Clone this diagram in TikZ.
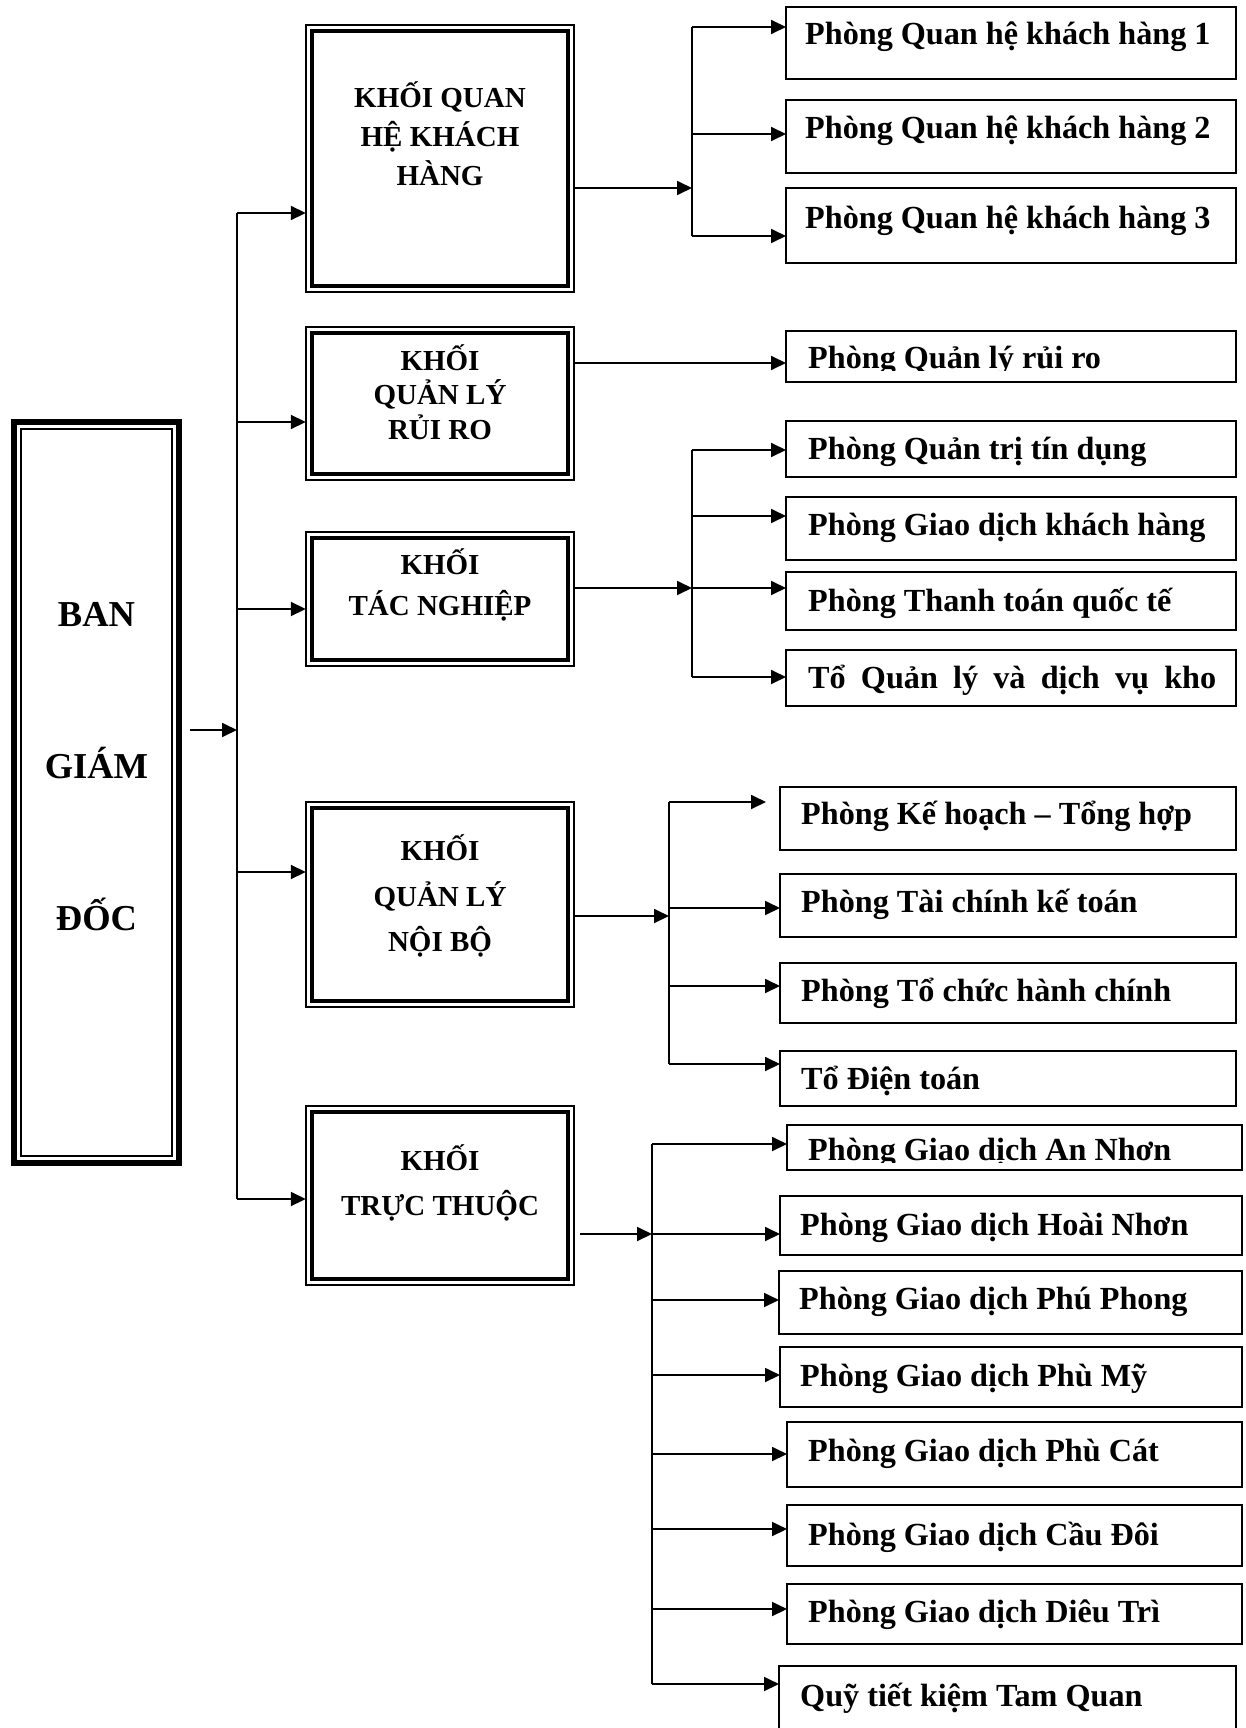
\documentclass[tikz,border=0pt]{standalone}
\usepackage{fontspec}
\setmainfont{Liberation Serif}
\usetikzlibrary{arrows.meta}
\begin{document}
\begin{tikzpicture}[x=1pt,y=-1pt,
  ln/.style={line width=1.8pt},
  arr/.style={line width=1.8pt,-{Triangle[length=15pt,width=14pt]}},
  rbox/.style={draw,line width=2.2pt,inner sep=0pt,outer sep=0pt},
  khoi/.style={draw,line width=1.6pt,inner sep=0pt,outer sep=0pt,minimum width=268.4pt,
    path picture={\draw[line width=3.8pt] ([shift={(6.5pt,-6.5pt)}]path picture bounding box.north west) rectangle ([shift={(-6.5pt,6.5pt)}]path picture bounding box.south east);}},
  gdbox/.style={draw,line width=6pt,inner sep=0pt,outer sep=0pt,
    path picture={\draw[line width=2pt] ([shift={(7.25pt,-7.25pt)}]path picture bounding box.north west) rectangle ([shift={(-7.25pt,7.25pt)}]path picture bounding box.south east);}},
  rt/.style={font=\fontsize{32.2}{36}\selectfont\bfseries,anchor=base west,inner sep=0pt},
  kt/.style={font=\fontsize{29}{34}\selectfont\bfseries,anchor=base,inner sep=0pt},
  gt/.style={font=\fontsize{36.5}{42}\selectfont\bfseries,anchor=base,inner sep=0pt},
]
\useasboundingbox (0,0) rectangle (1245,1728);

% ---------- Ban Giam Doc ----------
\node[gdbox,minimum width=165.5pt,minimum height=741.5pt] (GD) at (96.5,792.5) {};
\node[gt] (GDa) at (96.5,626) {BAN};
\node[gt] (GDb) at (96.5,778) {GIÁM};
\node[gt] (GDc) at (96.5,930) {ĐỐC};

% ---------- Khoi boxes ----------
\node[khoi,minimum height=267.4pt] (K1) at (440,158.5) {};
\node[kt] (K1a) at (440,108) {KHỐI QUAN};
\node[kt] (K1b) at (440,147) {HỆ KHÁCH};
\node[kt] (K1c) at (440,186) {HÀNG};

\node[khoi,minimum height=153.4pt] (K2) at (440,403.5) {};
\node[kt] (K2a) at (440,370) {KHỐI};
\node[kt] (K2b) at (440,404) {QUẢN LÝ};
\node[kt] (K2c) at (440,439) {RỦI RO};

\node[khoi,minimum height=134.4pt] (K3) at (440,599) {};
\node[kt] (K3a) at (440,574) {KHỐI};
\node[kt] (K3b) at (440,615) {TÁC NGHIỆP};

\node[khoi,minimum height=205.4pt] (K4) at (440,904.5) {};
\node[kt] (K4a) at (440,860) {KHỐI};
\node[kt] (K4b) at (440,906) {QUẢN LÝ};
\node[kt] (K4c) at (440,951) {NỘI BỘ};

\node[khoi,minimum height=179.4pt] (K5) at (440,1195.5) {};
\node[kt] (K5a) at (440,1170) {KHỐI};
\node[kt] (K5b) at (440,1215) {TRỰC THUỘC};

% ---------- Right boxes ----------
\node[rbox,minimum width=450pt,minimum height=72pt] (A1) at (1011,43) {};
\node[rt] (tA1) at (805,45) {Phòng Quan hệ khách hàng 1};
\node[rbox,minimum width=450pt,minimum height=73pt] (A2) at (1011,136.5) {};
\node[rt] (tA2) at (805,139) {Phòng Quan hệ khách hàng 2};
\node[rbox,minimum width=450pt,minimum height=75pt] (A3) at (1011,225.5) {};
\node[rt] (tA3) at (805,229) {Phòng Quan hệ khách hàng 3};

\node[rbox,minimum width=450pt,minimum height=51pt] (B) at (1011,356.5) {};
\begin{scope}
\clip (785,330) rectangle (1237,370);
\node[rt] (tB) at (808,368) {Phòng Quản lý rủi ro};
\end{scope}

\node[rbox,minimum width=450pt,minimum height=56pt] (C1) at (1011,449) {};
\node[rt] (tC1) at (808,459) {Phòng Quản trị tín dụng};
\node[rbox,minimum width=450pt,minimum height=63pt] (C2) at (1011,528.5) {};
\node[rt] (tC2) at (808,535) {Phòng Giao dịch khách hàng};
\node[rbox,minimum width=450pt,minimum height=58pt] (C3) at (1011,601) {};
\node[rt] (tC3) at (808,611) {Phòng Thanh toán quốc tế};
\node[rbox,minimum width=450pt,minimum height=56pt] (C4) at (1011,678) {};
\node[rt] (tC4) at (808,688) {\makebox[408pt][s]{Tổ Quản lý và dịch vụ kho}};

\node[rbox,minimum width=456pt,minimum height=63pt] (D1) at (1008,818.5) {};
\node[rt] (tD1) at (801,824) {Phòng Kế hoạch – Tổng hợp};
\node[rbox,minimum width=456pt,minimum height=63pt] (D2) at (1008,905.5) {};
\node[rt] (tD2) at (801,912) {Phòng Tài chính kế toán};
\node[rbox,minimum width=456pt,minimum height=60pt] (D3) at (1008,993) {};
\node[rt] (tD3) at (801,1001) {Phòng Tổ chức hành chính};
\node[rbox,minimum width=456pt,minimum height=55pt] (D4) at (1008,1078.5) {};
\node[rt] (tD4) at (801,1089) {Tổ Điện toán};

\node[rbox,minimum width=455pt,minimum height=45pt] (E1) at (1014.5,1147.5) {};
\begin{scope}
\clip (786,1124) rectangle (1243,1162);
\node[rt] (tE1) at (808,1160) {Phòng Giao dịch An Nhơn};
\end{scope}
\node[rbox,minimum width=462pt,minimum height=59pt] (E2) at (1011,1225.5) {};
\node[rt] (tE2) at (800,1235) {Phòng Giao dịch Hoài Nhơn};
\node[rbox,minimum width=463pt,minimum height=63pt] (E3) at (1010.5,1302.5) {};
\node[rt] (tE3) at (799,1309) {Phòng Giao dịch Phú Phong};
\node[rbox,minimum width=462pt,minimum height=60pt] (E4) at (1011,1377) {};
\node[rt] (tE4) at (800,1386) {Phòng Giao dịch Phù Mỹ};
\node[rbox,minimum width=455pt,minimum height=65pt] (E5) at (1014.5,1454.5) {};
\node[rt] (tE5) at (808,1461) {Phòng Giao dịch Phù Cát};
\node[rbox,minimum width=455pt,minimum height=61pt] (E6) at (1014.5,1535.5) {};
\node[rt] (tE6) at (808,1545) {Phòng Giao dịch Cầu Đôi};
\node[rbox,minimum width=455pt,minimum height=60pt] (E7) at (1014.5,1614) {};
\node[rt] (tE7) at (808,1622) {Phòng Giao dịch Diêu Trì};
\node[rbox,minimum width=457pt,minimum height=74pt] (E8) at (1007.5,1703) {};
\node[rt] (tE8) at (800,1706) {Quỹ tiết kiệm Tam Quan};

% ---------- Connectors: Ban Giam Doc -> Khoi ----------
\coordinate (s0) at (190,730);
\coordinate (m0) at (237,730);
\coordinate (j1) at (237,213);
\coordinate (j2) at (237,422);
\coordinate (j3) at (237,609);
\coordinate (j4) at (237,872);
\coordinate (j5) at (237,1199);
\draw[arr] (s0) -- (m0);
\draw[ln] (j1) -- (j5);
\draw[arr] (j1) -- (j1 -| K1.west);
\draw[arr] (j2) -- (j2 -| K2.west);
\draw[arr] (j3) -- (j3 -| K3.west);
\draw[arr] (j4) -- (j4 -| K4.west);
\draw[arr] (j5) -- (j5 -| K5.west);

% ---------- Khoi 1 ----------
\coordinate (c1) at (692,188);
\coordinate (c1a) at (692,27);
\coordinate (c1b) at (692,134);
\coordinate (c1c) at (692,236);
\draw[arr] (K1.east |- c1) -- (c1);
\draw[ln] (c1a) -- (c1c);
\draw[arr] (c1a) -- (c1a -| A1.west);
\draw[arr] (c1b) -- (c1b -| A2.west);
\draw[arr] (c1c) -- (c1c -| A3.west);

% ---------- Khoi 2 ----------
\coordinate (c2) at (700,363);
\draw[arr] (K2.east |- c2) -- (c2 -| B.west);

% ---------- Khoi 3 ----------
\coordinate (c3) at (692,588);
\coordinate (c3a) at (692,450);
\coordinate (c3b) at (692,516);
\coordinate (c3d) at (692,677);
\draw[arr] (K3.east |- c3) -- (c3);
\draw[ln] (c3a) -- (c3d);
\draw[arr] (c3a) -- (c3a -| C1.west);
\draw[arr] (c3b) -- (c3b -| C2.west);
\draw[arr] (c3) -- (c3 -| C3.west);
\draw[arr] (c3d) -- (c3d -| C4.west);

% ---------- Khoi 4 ----------
\coordinate (c4) at (669,916);
\coordinate (c4a) at (669,802);
\coordinate (c4ae) at (766,802);
\coordinate (c4b) at (669,908);
\coordinate (c4c) at (669,986);
\coordinate (c4d) at (669,1064);
\draw[arr] (K4.east |- c4) -- (c4);
\draw[ln] (c4a) -- (c4d);
\draw[arr] (c4a) -- (c4ae);
\draw[arr] (c4b) -- (c4b -| D2.west);
\draw[arr] (c4c) -- (c4c -| D3.west);
\draw[arr] (c4d) -- (c4d -| D4.west);

% ---------- Khoi 5 ----------
\coordinate (c5) at (652,1234);
\coordinate (c5a) at (652,1144);
\coordinate (c5c) at (652,1300);
\coordinate (c5d) at (652,1375);
\coordinate (c5e) at (652,1454);
\coordinate (c5f) at (652,1529);
\coordinate (c5g) at (652,1609);
\coordinate (c5h) at (652,1684);
\draw[arr] ([xshift=6pt]K5.east |- c5) -- (c5);
\draw[ln] (c5a) -- (c5h);
\draw[arr] (c5a) -- (c5a -| E1.west);
\draw[arr] (c5) -- (c5 -| E2.west);
\draw[arr] (c5c) -- (c5c -| E3.west);
\draw[arr] (c5d) -- (c5d -| E4.west);
\draw[arr] (c5e) -- (c5e -| E5.west);
\draw[arr] (c5f) -- (c5f -| E6.west);
\draw[arr] (c5g) -- (c5g -| E7.west);
\draw[arr] (c5h) -- (c5h -| E8.west);
\end{tikzpicture}
\end{document}
